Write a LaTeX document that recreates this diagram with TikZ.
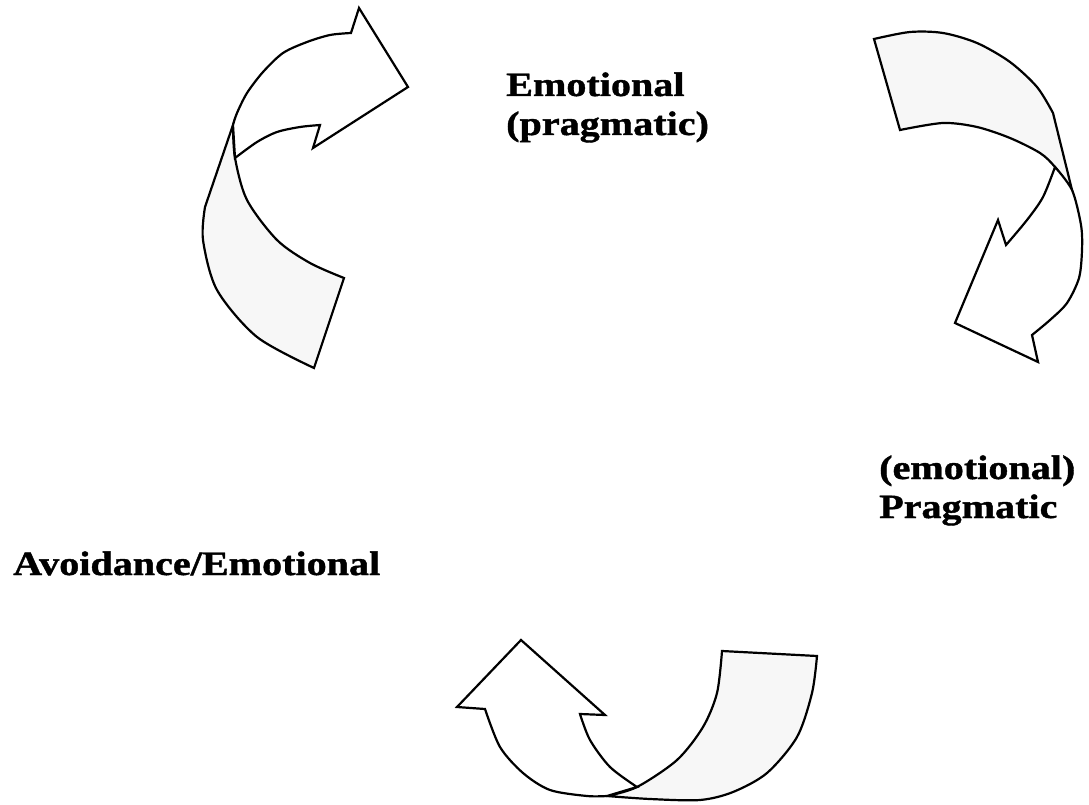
\documentclass[tikz,border=0pt]{standalone}
\usepackage{fontspec}
\newfontfamily\cyclefont[FakeStretch=1.18, BoldFeatures={FakeBold=1.2}]{Liberation Serif}
\tikzset{
    % Front face of a twisted ribbon arrow - white
    ribbon front/.style={draw=black, fill=white, line width=2.2pt, line join=miter},
    % Back face of the ribbon - light dotted gray
    ribbon back/.style={draw=black, fill=gray!6, line width=2.2pt, line join=miter},
    % Stage labels of the cycle
    stage label/.style={font=\cyclefont\bfseries\fontsize{34}{39}\selectfont, anchor=base west, align=left, inner sep=0pt}
}

\begin{document}
\begin{tikzpicture}[x=1pt, y=-1pt]
    \useasboundingbox (0,0) rectangle (1089,805);

    % --- Set up coordinates ---
    % Upper left arrow (points right)
    \coordinate (L_tip) at (408,87);
    \coordinate (L_out) at (359,8);
    \coordinate (L_in) at (313,148);
    \coordinate (L_so) at (351,33);
    \coordinate (L_si) at (320,125);
    \coordinate (L_e1) at (344,278);
    \coordinate (L_e2) at (314,368);
    \coordinate (L_k) at (205,207);

    % Right arrow (points down-left)
    \coordinate (R_tip) at (955,323);
    \coordinate (R_out) at (1038,362);
    \coordinate (R_in) at (998,220);
    \coordinate (R_so) at (1032,335);
    \coordinate (R_si) at (1006,245);
    \coordinate (R_e1) at (874,39);
    \coordinate (R_e2) at (900,130);
    \coordinate (R_k) at (1053,113);
    \coordinate (R_m) at (1072,190);

    % Bottom arrow (points up-left)
    \coordinate (B_tip) at (521,640);
    \coordinate (B_out) at (457,707);
    \coordinate (B_in) at (605,715);
    \coordinate (B_so) at (485,709);
    \coordinate (B_si) at (580,714);
    \coordinate (B_e1) at (722,651);
    \coordinate (B_e2) at (817,656);

    % --- Upper left ribbon ---
    \draw[ribbon back] (233,125) -- plot[smooth] coordinates {(233,125) (235,158) (247,200) (277,240) (310,263) (L_e1)}
        -- (L_e2) -- plot[smooth] coordinates {(L_e2) (257,337) (217,290) (203,240) (L_k)} -- cycle;
    \draw[ribbon front] (233,125) -- plot[smooth] coordinates {(233,125) (237,113) (247,93) (263,72) (283,53) (307,42) (330,35) (L_so)}
        -- (L_out) -- (L_tip) -- (L_in) -- (L_si)
        -- plot[smooth] coordinates {(L_si) (300,127) (277,132) (257,142) (235,158)} -- cycle;

    % --- Right ribbon ---
    \draw[ribbon back] (R_e1) -- plot[smooth] coordinates {(R_e1) (910,32) (943,33) (977,43) (1010,62) (1037,87) (R_k)}
        -- (R_m) -- plot[smooth] coordinates {(R_m) (1055,167) (1040,153) (1010,138) (977,127) (943,123) (R_e2)} -- cycle;
    \draw[ribbon front] (1055,167) -- plot[smooth] coordinates {(1055,167) (R_m) (1081,225) (1082,250) (1079,278) (1067,303) (1050,320) (R_so)}
        -- (R_out) -- (R_tip) -- (R_in) -- (R_si)
        -- plot[smooth] coordinates {(R_si) (1027,220) (1043,197) (1055,167)} -- cycle;

    % --- Bottom ribbon ---
    \draw[ribbon back] (B_e1) -- (B_e2) -- plot[smooth] coordinates {(B_e2) (812,693) (797,737) (767,773) (733,792) (700,800) (650,799) (607,796)}
        -- plot[smooth] coordinates {(607,796) (637,787) (677,760) (703,727) (717,693) (B_e1)} -- cycle;
    \draw[ribbon front] (607,796) -- plot[smooth] coordinates {(607,796) (587,796) (550,790) (523,773) (500,747) (B_so)}
        -- (B_out) -- (B_tip) -- (B_in) -- (B_si)
        -- plot[smooth] coordinates {(B_si) (590,740) (610,767) (637,787)} -- cycle;

    % --- Stage labels ---
    \node[stage label] (emo) at (506,135) {Emotional\\(pragmatic)};
    \node[stage label] (prag) at (879,518) {(emotional)\\Pragmatic};
    \node[stage label] (avoid) at (13,575) {Avoidance/Emotional};

\end{tikzpicture}
\end{document}
